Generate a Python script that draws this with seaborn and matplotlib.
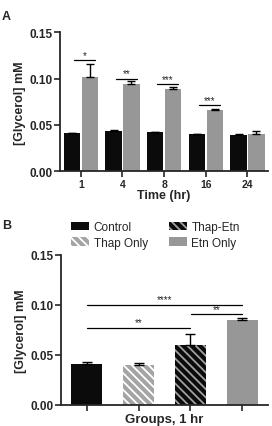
import numpy as np
import pandas as pd
import seaborn as sns
import matplotlib.pyplot as plt
from matplotlib.patches import Patch

# Panel A - glycerol over time
time_labels = ["1", "4", "8", "16", "24"]
control_a = [0.041, 0.044, 0.042, 0.040, 0.0395]
control_a_err = [0.0006, 0.0005, 0.0005, 0.0005, 0.0004]
etn_a = [0.102, 0.094, 0.0885, 0.0665, 0.040]
etn_a_err = [0.014, 0.003, 0.002, 0.0012, 0.003]
sig_a_height = [0.120, 0.0996, 0.094, 0.0715]
sig_a_text = ["*", "**", "***", "***"]

# Panel B - groups at 1 hr
groups = ["Control", "Thap Only", "Thap-Etn", "Etn Only"]
vals_b = [0.0407, 0.0403, 0.0597, 0.0853]
err_b = [0.002, 0.0014, 0.011, 0.0014]
# (from group, to group, height, label)
sig_b = [(0, 3, 0.1003, "****"), (2, 3, 0.0907, "**"), (0, 2, 0.0773, "**")]

colors = {"Control": "#0b0b0b", "Thap Only": "#a4a4a4",
          "Thap-Etn": "#0b0b0b", "Etn Only": "#979797"}
hatch_colors = {"Thap Only": "#ffffff", "Thap-Etn": "#a0a0a0"}

sns.set_theme(style="ticks")
plt.rcParams["font.family"] = ["Liberation Sans", "DejaVu Sans"]
plt.rcParams["hatch.linewidth"] = 1.3
plt.rcParams["axes.linewidth"] = 1.3

fig = plt.figure(figsize=(2.72, 4.27), dpi=100)
ax1 = fig.add_axes([60 / 272, 1 - 172.3 / 427, 208.3 / 272, 139 / 427])
ax2 = fig.add_axes([61 / 272, 1 - 406 / 427, 207 / 272, 150 / 427])

# ---- Panel A
df_a = pd.DataFrame({
    "time": time_labels * 2,
    "glycerol": control_a + etn_a,
    "group": ["Control"] * 5 + ["Etn Only"] * 5,
})
sns.barplot(data=df_a, x="time", y="glycerol", hue="group",
            palette={"Control": colors["Control"], "Etn Only": colors["Etn Only"]},
            width=0.86, gap=0.08, errorbar=None, legend=False,
            linewidth=0, ax=ax1)

for cont, errs in zip(ax1.containers, [control_a_err, etn_a_err]):
    xs = [b.get_x() + b.get_width() / 2 for b in cont]
    ys = [b.get_height() for b in cont]
    ax1.errorbar(xs, ys, yerr=[np.zeros(len(errs)), errs], fmt="none",
                 ecolor="black", elinewidth=1, capsize=3, capthick=1)

for i, (h, s) in enumerate(zip(sig_a_height, sig_a_text)):
    ax1.plot([i - 0.16, i + 0.34], [h, h], color="black", lw=0.9)
    ax1.text(i + 0.09, h + 0.0005, s, ha="center", va="bottom", fontsize=7)

ax1.set_ylim(0, 0.15)
ax1.set_xlim(-0.5, 4.5)
ax1.set_yticks([0, 0.05, 0.10, 0.15])
ax1.set_yticklabels(["0.00", "0.05", "0.10", "0.15"])
ax1.set_xlabel("Time (hr)", fontsize=9, fontweight="bold", labelpad=0)
ax1.set_ylabel("[Glycerol] mM", fontsize=9, fontweight="bold", labelpad=2)

# ---- Panel B
sns.barplot(x=groups, y=vals_b, hue=groups, palette=colors, width=0.6,
            errorbar=None, legend=False, linewidth=0, ax=ax2)
bars_b = [b for cont in ax2.containers for b in cont]
for bar, g in zip(bars_b, groups):
    if g in hatch_colors:
        bar.set_hatch("\\\\\\\\")
        bar.set_edgecolor(hatch_colors[g])
        bar.set_linewidth(0)
xs_b = [b.get_x() + b.get_width() / 2 for b in bars_b]
ax2.errorbar(xs_b, vals_b, yerr=[np.zeros(len(err_b)), err_b], fmt="none",
             ecolor="black", elinewidth=1, capsize=3.5, capthick=1)

for a, b, h, s in sig_b:
    xa = a + 0.02 if a == 2 else a
    ax2.plot([xa, b], [h, h], color="black", lw=0.9)
    ax2.text((xa + b) / 2, h + 0.0005, s, ha="center", va="bottom", fontsize=7)

ax2.set_ylim(0, 0.15)
ax2.set_xlim(-0.5, 3.5)
ax2.set_yticks([0, 0.05, 0.10, 0.15])
ax2.set_yticklabels(["0.00", "0.05", "0.10", "0.15"])
ax2.set_xticks(range(4))
ax2.set_xticklabels([])
ax2.set_xlabel("Groups, 1 hr", fontsize=9.5, fontweight="bold", labelpad=0)
ax2.set_ylabel("[Glycerol] mM", fontsize=9, fontweight="bold", labelpad=2)

for ax in (ax1, ax2):
    sns.despine(ax=ax)
    ax.tick_params(axis="both", direction="out", length=4, width=1.2, pad=1.5)
    for lab in ax.get_yticklabels():
        lab.set_fontsize(8.5)
        lab.set_fontweight("bold")
    for lab in ax.get_xticklabels():
        lab.set_fontsize(7.5)
        lab.set_fontweight("bold")

handles = []
for g in groups:
    if g in hatch_colors:
        handles.append(Patch(facecolor=colors[g], edgecolor=hatch_colors[g],
                             hatch="\\\\\\\\", linewidth=0, label=g))
    else:
        handles.append(Patch(facecolor=colors[g], linewidth=0, label=g))
fig.legend(handles=handles, ncol=2, frameon=False, fontsize=8.5,
           loc="upper left", bbox_to_anchor=(63 / 272, 1 - 214 / 427),
           handlelength=1.5, handleheight=0.75, handletextpad=0.4,
           columnspacing=1.8, labelspacing=0.3, borderpad=0.2)

fig.text(2 / 272, 1 - 17 / 427, "A", fontsize=9, fontweight="bold", va="center")
fig.text(2 / 272, 1 - 226 / 427, "B", fontsize=9, fontweight="bold", va="center")

fig.savefig("out.png", dpi=100)
